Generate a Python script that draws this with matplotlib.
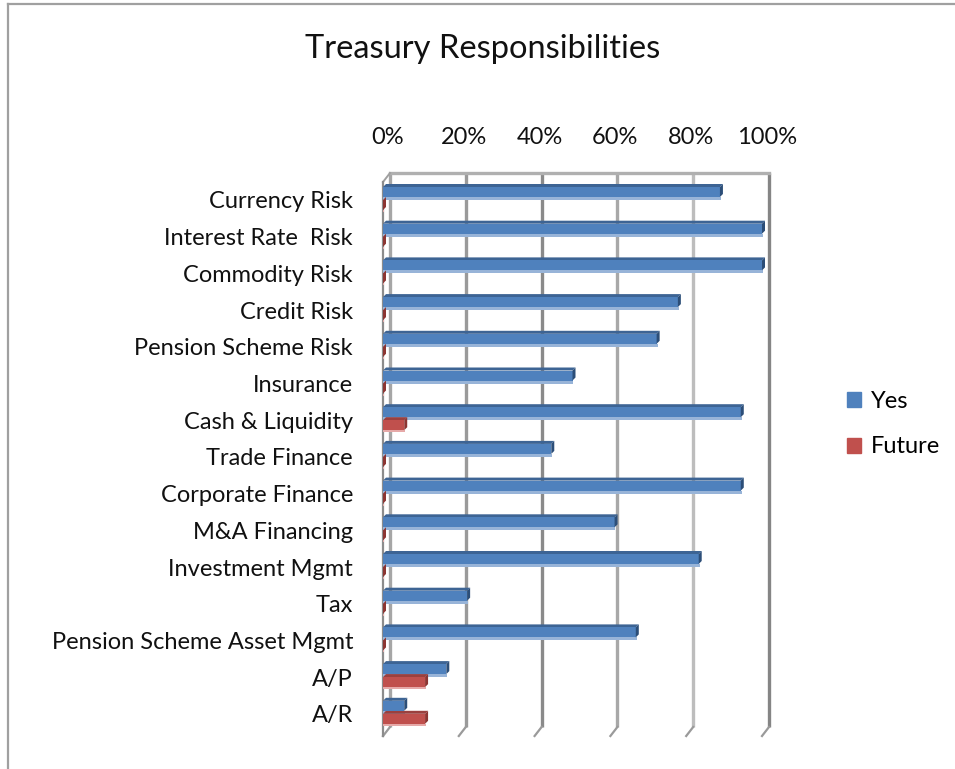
import numpy as np
import matplotlib.pyplot as plt
from matplotlib.patches import Polygon, Patch
from matplotlib.lines import Line2D

categories = ["Currency Risk", "Interest Rate  Risk", "Commodity Risk", "Credit Risk",
              "Pension Scheme Risk", "Insurance", "Cash & Liquidity", "Trade Finance",
              "Corporate Finance", "M&A Financing", "Investment Mgmt", "Tax",
              "Pension Scheme Asset Mgmt", "A/P", "A/R"]
yes_pct = [88.9, 100.0, 100.0, 77.8, 72.2, 50.0, 94.4, 44.4, 94.4, 61.1, 83.3, 22.2, 66.7, 16.7, 5.6]
future_pct = [0, 0, 0, 0, 0, 0, 5.6, 0, 0, 0, 0, 0, 0, 11.1, 11.1]
tick_pct = [0, 20, 40, 60, 80, 100]
tick_labels = ["0%", "20%", "40%", "60%", "80%", "100%"]

plt.rcParams['font.family'] = ['Lato', 'DejaVu Sans']

W, H = 955, 769
fig = plt.figure(figsize=(W / 100, H / 100), dpi=100)

# plot box in pixels, and pixel scale of the data
left_px, right_px, top_px, bot_px = 375, 780, 165, 750
x0_px, row0_px = 383, 200
px_x, px_y = 3.79, 36.7

ax = fig.add_axes([left_px / W, 1 - bot_px / H, (right_px - left_px) / W, (bot_px - top_px) / H])
ax.set_xlim((left_px - x0_px) / px_x, (right_px - x0_px) / px_x)
ax.set_ylim((bot_px - row0_px) / px_y, (top_px - row0_px) / px_y)
ax.axis('off')


def dx(p):
    return p / px_x


def dy(p):
    return p / px_y


# walls: back offset and floor
wall_dx, wall_dy = dx(7), dy(-9)
y_top_front = dy(182 - row0_px)
y_bot_front = dy(736 - row0_px)
y_top_back = y_top_front + wall_dy
y_bot_back = y_bot_front + wall_dy
grid_cols = ['#a6a6a6', '#9a9a9a', '#8a8a8a', '#a8a8a8', '#bdbdbd', '#858585']

for t, c in zip(tick_pct, grid_cols):
    xb = t + wall_dx
    ax.plot([xb, xb], [y_top_back, y_bot_back], color=c, lw=2.4, solid_capstyle='butt', zorder=1)
    ax.plot([xb, t], [y_bot_back, y_bot_front], color='#9a9a9a', lw=1.6, zorder=1)

ax.plot([wall_dx, 100 + wall_dx], [y_top_back, y_top_back], color='#b0b0b0', lw=2.4, zorder=1)
ax.plot([0, wall_dx], [y_top_front, y_top_back], color='#a0a0a0', lw=1.4, zorder=1)
ax.plot([0, 0], [y_top_front, y_bot_front], color='#8c8c8c', lw=1.6, zorder=1)

# 3D-looking bars
bar_d = dx(3), dy(-3)


def bar3d(v, y_top, y_bot, front, top, side, strip, strip_h):
    ax.add_patch(Polygon([(0, y_top), (bar_d[0], y_top + bar_d[1]), (v + bar_d[0], y_top + bar_d[1]), (v, y_top)],
                         closed=True, fc=top, ec='none', zorder=3))
    if v > 0:
        ax.barh(0.5 * (y_top + y_bot), v, height=y_bot - y_top, left=0, color=front, zorder=4)
    ax.add_patch(Polygon([(v, y_top), (v + bar_d[0], y_top + bar_d[1]), (v + bar_d[0], y_bot + bar_d[1]), (v, y_bot)],
                         closed=True, fc=side, ec='none', zorder=4))
    ax.add_patch(Polygon([(0, y_bot), (v + bar_d[0] * 0.3, y_bot), (v + bar_d[0] * 0.3, y_bot + strip_h), (0, y_bot + strip_h)],
                         closed=True, fc=strip, ec='none', zorder=2))


for i, (yv, fv) in enumerate(zip(yes_pct, future_pct)):
    bar3d(fv, i + dy(0), i + dy(10), '#c0504d', '#9b403e', '#8c3532', '#e6a9a8', dy(2))
    bar3d(yv, i + dy(-13), i + dy(-3), '#4f81bd', '#3d6494', '#2c4e78', '#98b4d8', dy(3))

# category labels and percentage labels
for i, name in enumerate(categories):
    ax.text(dx(353 - x0_px), i + dy(2), name, ha='right', va='center', fontsize=17, color='#111111', clip_on=False)

for t, lab in zip(tick_pct, tick_labels):
    ax.text(t + wall_dx - dx(2), dy(138 - row0_px), lab, ha='center', va='center', fontsize=17,
            color='#111111', clip_on=False)

fig.text(483 / W, 1 - 49 / H, "Treasury Responsibilities", ha='center', va='center', fontsize=23.5, color='#111111')

handles = [Patch(color='#4f81bd', label='Yes'), Patch(color='#c0504d', label='Future')]
fig.legend(handles=handles, loc='center left', bbox_to_anchor=(826 / W, 1 - 424 / H), frameon=False,
           fontsize=17, handlelength=0.6, handleheight=0.6, handletextpad=0.4, labelspacing=1.05)

# chart border
fig.add_artist(Line2D([8 / W, 1], [1 - 4 / H, 1 - 4 / H], color='#a0a0a0', lw=1.6))
fig.add_artist(Line2D([8 / W, 8 / W], [1 - 4 / H, 0], color='#a0a0a0', lw=1.6))

fig.savefig("out.png", dpi=100)
